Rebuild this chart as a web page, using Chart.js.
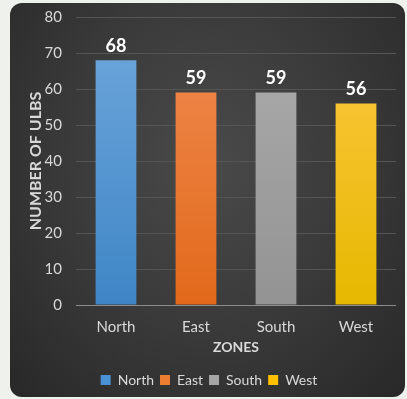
<!DOCTYPE html>
<html>
<head>
<meta charset="utf-8">
<script src="https://cdn.jsdelivr.net/npm/chart.js@4/dist/chart.umd.min.js"></script>
<style>
    html, body { margin: 0; padding: 0; }
    body { width: 407px; height: 399px; background: #eef1ec; position: relative; overflow: hidden; }
    .panel {
        position: absolute; left: 10px; top: 3px; width: 395px; height: 394px;
        border-radius: 12px;
        background: radial-gradient(ellipse at 50% 40%, #4a4a4a 0%, #3a3a3a 50%, #282828 100%);
        overflow: hidden;
    }
    .panel canvas { display: block; }
</style>
</head>
<body>
<div class="panel"><canvas id="ctx" width="395" height="394"></canvas></div>
<script>
const zones = ['North', 'East', 'South', 'West'];
const ulbCounts = [68, 59, 59, 56];
const yTicks = [0, 10, 20, 30, 40, 50, 60, 70, 80];
const topColors = ['#6fa7dc', '#f08c52', '#adadad', '#ffc845'];
const bottomColors = ['#3f86c6', '#e2691b', '#939393', '#e6b800'];
const legendColors = ['#4a90d4', '#ed7d31', '#a5a5a5', '#ffc000'];

const fontFamily = 'Lato, "Open Sans", sans-serif';
const textColor = '#d9d9d9';

// bar values drawn above each bar
const valueLabels = {
    id: 'valueLabels',
    afterDatasetsDraw: function (chart) {
        let ctx = chart.ctx;
        let meta = chart.getDatasetMeta(0);
        ctx.save();
        ctx.fillStyle = '#ffffff';
        ctx.font = 'bold 18px ' + fontFamily;
        ctx.textAlign = 'center';
        ctx.textBaseline = 'bottom';
        meta.data.forEach((bar, i) => {
            ctx.fillText(ulbCounts[i], bar.x, bar.y - 5);
        });
        ctx.restore();
    }
};

function barFill(context) {
    let chart = context.chart;
    let area = chart.chartArea;
    if (!area) return legendColors[context.dataIndex];
    let i = context.dataIndex;
    let g = chart.ctx.createLinearGradient(0, area.top, 0, area.bottom);
    g.addColorStop(0, topColors[i]);
    g.addColorStop(1, bottomColors[i]);
    return g;
}

new Chart(document.getElementById('ctx'), {
    type: 'bar',
    data: {
        labels: zones,
        datasets: [{
            label: 'Number of ULBs',
            data: ulbCounts,
            backgroundColor: barFill,
            borderWidth: 0,
            categoryPercentage: 1.0,
            barPercentage: 0.51
        }]
    },
    options: {
        responsive: false,
        animation: false,
        layout: { padding: { left: 12, right: 9, top: 14, bottom: 0 } },
        plugins: {
            tooltip: { enabled: false },
            legend: {
                position: 'bottom',
                labels: {
                    color: textColor,
                    font: { family: fontFamily, size: 14 },
                    boxWidth: 10,
                    boxHeight: 10,
                    padding: 6,
                    generateLabels: function () {
                        return zones.map((z, i) => ({
                            text: z,
                            fillStyle: legendColors[i],
                            strokeStyle: legendColors[i],
                            lineWidth: 0,
                            fontColor: textColor,
                            index: i
                        }));
                    }
                }
            }
        },
        scales: {
            x: {
                grid: { display: false },
                border: { display: false },
                ticks: { color: textColor, font: { family: fontFamily, size: 15 }, padding: 5 },
                afterFit: function (axis) {
                    axis.height = 62;
                },
                title: {
                    display: true,
                    text: 'ZONES',
                    color: textColor,
                    font: { family: fontFamily, size: 14, weight: 'bold' },
                    padding: { top: 5, bottom: 11 }
                }
            },
            y: {
                min: 0,
                max: 80,
                afterBuildTicks: function (axis) {
                    axis.ticks = yTicks.map(v => ({ value: v }));
                },
                afterFit: function (axis) {
                    axis.width = 54;
                    axis.paddingTop = 0;
                    axis.paddingBottom = 0;
                },
                grid: {
                    drawTicks: false,
                    color: c => c.tick && c.tick.value === 0 ? '#8c8c8c' : '#555555',
                    lineWidth: 1
                },
                border: { display: false },
                ticks: { color: textColor, font: { family: fontFamily, size: 15 }, padding: 14 },
                title: {
                    display: true,
                    text: 'NUMBER OF ULBS',
                    color: textColor,
                    font: { family: fontFamily, size: 16, weight: 'bold' },
                    padding: { top: 4, bottom: 0 }
                }
            }
        }
    },
    plugins: [valueLabels]
});
</script>
</body>
</html>
